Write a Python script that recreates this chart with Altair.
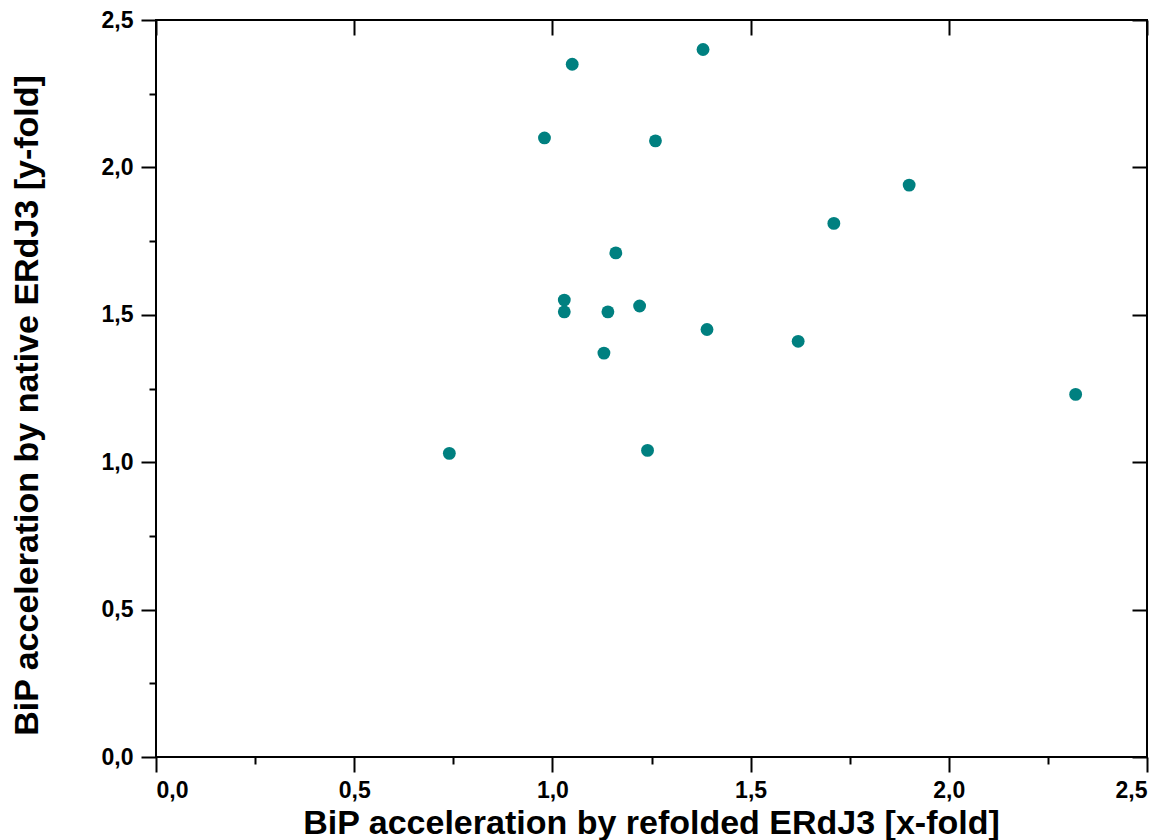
import altair as alt
import pandas as pd

refolded_x = [0.74, 0.98, 1.05, 1.03, 1.03, 1.13, 1.14, 1.16, 1.22, 1.24, 1.26, 1.38, 1.39, 1.62, 1.71, 1.90, 2.32]
native_y = [1.03, 2.10, 2.35, 1.55, 1.51, 1.37, 1.51, 1.71, 1.53, 1.04, 2.09, 2.40, 1.45, 1.41, 1.81, 1.94, 1.23]

major_ticks = [0.0, 0.5, 1.0, 1.5, 2.0, 2.5]
all_ticks = [0.0, 0.25, 0.5, 0.75, 1.0, 1.25, 1.5, 1.75, 2.0, 2.25, 2.5]

x_title = "BiP acceleration by refolded ERdJ3 [x-fold]"
y_title = "BiP acceleration by native ERdJ3 [y-fold]"

df = pd.DataFrame({"x": refolded_x, "y": native_y})

FONT = "Liberation Sans"
is_minor = "round(datum.value*100) % 50 != 0"
label_expr = "round(datum.value*100) % 50 == 0 ? replace(format(datum.value, '.1f'), '.', ',') : ''"

x_scale = alt.Scale(domain=[0, 2.5], nice=False, zero=False)
y_scale = alt.Scale(domain=[0, 2.5], nice=False, zero=False)

x_axis_bottom = alt.Axis(
    orient="bottom", values=all_ticks, labelExpr=label_expr,
    tickSize=alt.condition(is_minor, alt.value(7), alt.value(15)),
    tickColor="black", tickWidth=2, domain=False, grid=False,
    labelFont=FONT, labelFontSize=23, labelFontWeight="bold", labelColor="black",
    labelPadding=7, labelBaseline="top",
    title=x_title, titleFont=FONT, titleFontSize=34, titleFontWeight="bold", titleColor="black",
    titleX=495, titleY=66, titleAlign="center", titleBaseline="middle",
)
y_axis_left = alt.Axis(
    orient="left", values=all_ticks, labelExpr=label_expr,
    tickSize=alt.condition(is_minor, alt.value(7), alt.value(15)),
    tickColor="black", tickWidth=2, domain=False, grid=False,
    labelFont=FONT, labelFontSize=23, labelFontWeight="bold", labelColor="black",
    labelPadding=8,
    title=y_title, titleFont=FONT, titleFontSize=34, titleFontWeight="bold", titleColor="black",
    titleX=-129, titleY=385, titleAlign="center", titleBaseline="middle", titleAngle=-90,
)
x_axis_top = alt.Axis(
    orient="top", values=major_ticks, labels=False, title=None, offset=-15,
    tickSize=15, tickColor="black", tickWidth=2, domain=False, grid=False,
)
y_axis_right = alt.Axis(
    orient="right", values=major_ticks, labels=False, title=None, offset=-15,
    tickSize=15, tickColor="black", tickWidth=2, domain=False, grid=False,
)

points = alt.Chart(df).mark_circle(size=165, color="#008080", opacity=1).encode(
    x=alt.X("x:Q", scale=x_scale, axis=x_axis_bottom),
    y=alt.Y("y:Q", scale=y_scale, axis=y_axis_left),
)
frame_axes = alt.Chart(df).mark_circle(size=0, opacity=0).encode(
    x=alt.X("x:Q", scale=x_scale, axis=x_axis_top),
    y=alt.Y("y:Q", scale=y_scale, axis=y_axis_right),
)

chart = alt.layer(points, frame_axes).resolve_axis(
    x="independent", y="independent"
).resolve_scale(x="shared", y="shared").properties(
    width=991, height=737,
    autosize=alt.AutoSizeParams(type="none"),
    padding={"left": 156, "top": 20, "right": 27, "bottom": 83},
    background="white",
).configure_view(stroke="black", strokeWidth=2)

chart.save("out.html", embed_options={"renderer": "svg", "actions": False})
